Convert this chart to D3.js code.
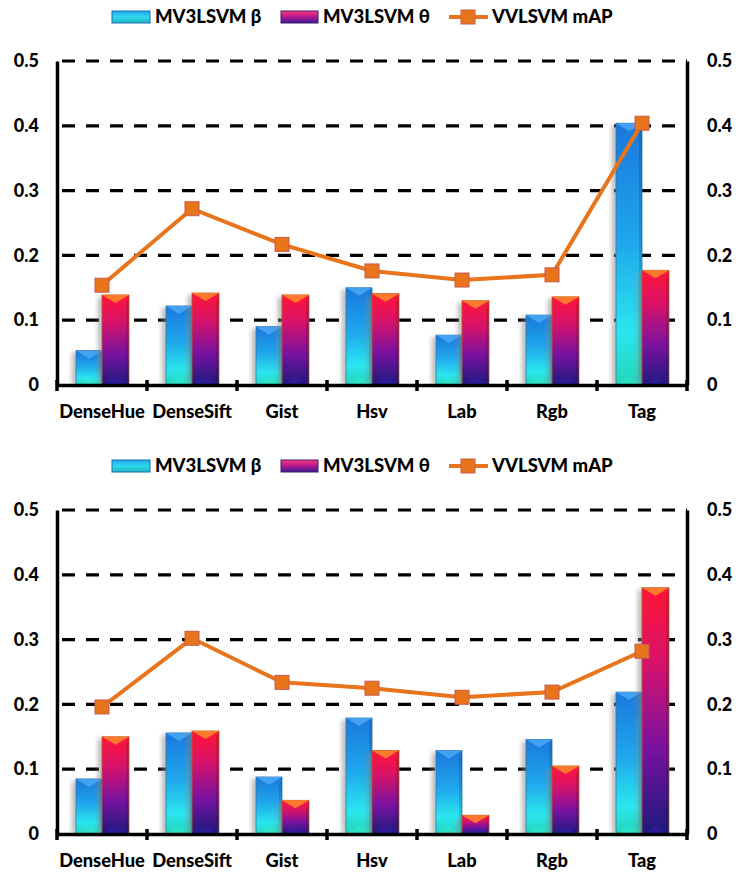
<!DOCTYPE html>
<html>
<head>
<meta charset="utf-8">
<script src="https://cdn.jsdelivr.net/npm/d3@7.9.0/dist/d3.min.js"></script>
<style>
  body { margin: 0; background: #fff; }
  svg text { font-family: Lato, "Open Sans", sans-serif; font-weight: 900; fill: #000; }
</style>
</head>
<body>
<svg id="chart" width="745" height="881"></svg>
<script>
// data
const categories = ['DenseHue', 'DenseSift', 'Gist', 'Hsv', 'Lab', 'Rgb', 'Tag'];
const yTicks = [0, 0.1, 0.2, 0.3, 0.4, 0.5];
const seriesNames = ['MV3LSVM β', 'MV3LSVM θ', 'VVLSVM mAP'];

const topBeta  = [0.053, 0.122, 0.090, 0.150, 0.077, 0.108, 0.404];
const topTheta = [0.139, 0.142, 0.139, 0.141, 0.130, 0.136, 0.177];
const topMap   = [0.154, 0.272, 0.217, 0.176, 0.162, 0.170, 0.404];

const botBeta  = [0.085, 0.156, 0.088, 0.179, 0.129, 0.146, 0.219];
const botTheta = [0.150, 0.159, 0.052, 0.129, 0.029, 0.105, 0.380];
const botMap   = [0.196, 0.302, 0.234, 0.225, 0.211, 0.219, 0.282];

const svg = d3.select('#chart');
const defs = svg.append('defs');

function grad(id, stops) {
  const g = defs.append('linearGradient').attr('id', id)
    .attr('x1', 0).attr('y1', 0).attr('x2', 0).attr('y2', 1);
  stops.forEach(([o, c]) => g.append('stop').attr('offset', o).attr('stop-color', c));
}
grad('gBeta', [[0, '#1a78dc'], [0.45, '#1fa6ec'], [0.8, '#2ae6ee'], [1, '#22d6b8']]);
grad('gTheta', [[0, '#ff1536'], [0.3, '#d8126a'], [0.65, '#7a12a0'], [1, '#1c1a7c']]);
grad('gLegB', [[0, '#1fa6ec'], [0.5, '#30d8ee'], [1, '#20b8c0']]);
grad('gLegT', [[0, '#ff3a7a'], [0.5, '#b01890'], [1, '#3a1a90']]);
const sh = defs.append('filter').attr('id', 'shadow').attr('x', -0.5).attr('width', 2);
sh.append('feGaussianBlur').attr('stdDeviation', 2.5);

const orange = '#e8741c';

function drawLegend(g) {
  g.append('rect').attr('x', 112).attr('y', 0).attr('width', 38).attr('height', 12)
    .attr('fill', 'url(#gLegB)').attr('stroke', '#1a6fb0').attr('stroke-width', 1);
  g.append('text').attr('x', 155).attr('y', 12).attr('font-size', 18.5).text(seriesNames[0]);
  g.append('rect').attr('x', 281).attr('y', 0).attr('width', 37).attr('height', 12)
    .attr('fill', 'url(#gLegT)').attr('stroke', '#3a1a70').attr('stroke-width', 1);
  g.append('text').attr('x', 323).attr('y', 12).attr('font-size', 18.5).text(seriesNames[1]);
  g.append('line').attr('x1', 449).attr('x2', 488).attr('y1', 6).attr('y2', 6)
    .attr('stroke', orange).attr('stroke-width', 4);
  g.append('rect').attr('x', 461).attr('y', -1).attr('width', 14).attr('height', 14)
    .attr('fill', orange).attr('stroke', '#c85a50').attr('stroke-width', 1);
  g.append('text').attr('x', 492).attr('y', 12).attr('font-size', 18.5).text(seriesNames[2]);
}

function drawBar(g, x, yTop, w, yBase, fill, cap, base) {
  const h = yBase - yTop;
  g.append('rect').attr('x', x - 4).attr('y', yTop + 2).attr('width', 7).attr('height', h - 2)
    .attr('fill', '#888').attr('opacity', 0.6).attr('filter', 'url(#shadow)');
  g.append('rect').attr('x', x).attr('y', yTop).attr('width', w).attr('height', h)
    .attr('fill', fill).attr('stroke', d3.color(cap).darker(1)).attr('stroke-width', 0.8);
  const c = Math.min(8, h / 2);
  g.append('path').attr('d', `M${x},${yTop}L${x + w},${yTop}L${x + w / 2},${yTop + c}Z`)
    .attr('fill', cap).attr('opacity', 0.85);
  g.append('path').attr('d', `M${x},${yBase}L${x + w},${yBase}L${x + w / 2},${yBase - c}Z`)
    .attr('fill', base).attr('opacity', 0.35);
  g.append('path').attr('d', `M${x + w - 3},${yTop + c}L${x + w},${yTop}L${x + w},${yBase}L${x + w - 3},${yBase - c}Z`)
    .attr('fill', '#000').attr('opacity', 0.12);
}

function drawChart(top, beta, theta, map) {
  const g = svg.append('g');
  drawLegend(g.append('g').attr('transform', `translate(0,${top + 11})`));

  const x = d3.scaleBand().domain(categories).range([57, 687]);
  const y = d3.scaleLinear().domain([0, 0.5]).range([top + 385, top + 61]);

  // dashed grid
  g.selectAll('.grid').data(yTicks.slice(1)).join('line')
    .attr('x1', 57).attr('x2', 687).attr('y1', d => y(d)).attr('y2', d => y(d))
    .attr('stroke', '#000').attr('stroke-width', 3.2).attr('stroke-dasharray', '13,11')
    .attr('stroke-dashoffset', -5);

  // bars
  const bw = 26;
  categories.forEach((c, i) => {
    const cx = x(c) + x.bandwidth() / 2;
    drawBar(g, cx - bw, y(beta[i]), bw, y(0), 'url(#gBeta)', '#4aa8f4', '#3ef0d0');
    drawBar(g, cx, y(theta[i]), bw + 1, y(0), 'url(#gTheta)', '#ff8a2a', '#4020c0');
  });

  // axes
  const axL = g.append('g').attr('transform', 'translate(57,0)')
    .call(d3.axisLeft(y).tickValues(yTicks).tickFormat(d3.format('')).tickSize(0).tickPadding(18));
  const axR = g.append('g').attr('transform', 'translate(687,0)')
    .call(d3.axisRight(y).tickValues(yTicks).tickFormat(d3.format('')).tickSize(0).tickPadding(20));
  [axL, axR].forEach(a => {
    a.select('.domain').attr('stroke', '#000').attr('stroke-width', 3.5);
    a.selectAll('text').attr('font-size', 18).style('font-family', 'Lato').style('font-weight', 900);
  });

  const xAxis = g.append('g').attr('transform', `translate(0,${y(0)})`)
    .call(d3.axisBottom(x).tickSize(0).tickPadding(20));
  xAxis.select('.domain').attr('stroke', '#000').attr('stroke-width', 3.5);
  xAxis.selectAll('text').attr('font-size', 18.3).style('font-family', 'Lato').style('font-weight', 900);
  // tick marks at band boundaries
  g.selectAll('.xt').data(categories.concat(['end'])).join('line')
    .attr('x1', (d, i) => 57 + i * x.bandwidth()).attr('x2', (d, i) => 57 + i * x.bandwidth())
    .attr('y1', y(0) - 5).attr('y2', y(0) + 6)
    .attr('stroke', '#000').attr('stroke-width', 3.5);

  // line + markers
  const line = d3.line().x((d, i) => x(categories[i]) + x.bandwidth() / 2).y(d => y(d));
  g.append('path').datum(map).attr('d', line)
    .attr('fill', 'none').attr('stroke', orange).attr('stroke-width', 4);
  g.selectAll('.mk').data(map).join('rect')
    .attr('x', (d, i) => x(categories[i]) + x.bandwidth() / 2 - 7)
    .attr('y', d => y(d) - 7).attr('width', 14).attr('height', 14)
    .attr('fill', orange).attr('stroke', '#c85a50').attr('stroke-width', 1);
}

drawChart(0, topBeta, topTheta, topMap);
drawChart(449, botBeta, botTheta, botMap);
</script>
</body>
</html>
